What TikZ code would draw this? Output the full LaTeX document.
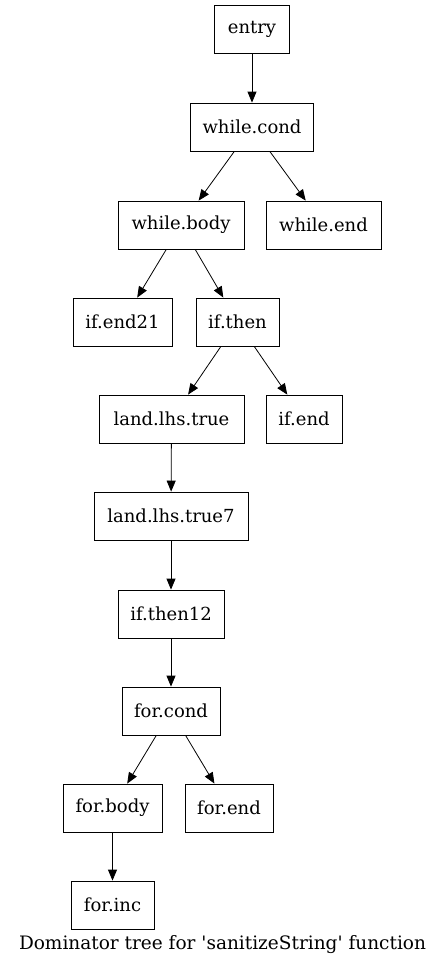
\documentclass[tikz,border=0pt]{standalone}
\usepackage{fontspec}
\setmainfont{DejaVu Serif}
\usetikzlibrary{arrows.meta}
\begin{document}
\begin{tikzpicture}[x=1pt,y=-1pt,
  blk/.style={draw,line width=0.8pt,rectangle,minimum height=48pt,inner xsep=8pt,font=\fontsize{18}{20}\selectfont},
  edge/.style={line width=0.8pt,-{Triangle[length=11pt,width=9pt]}}]
\useasboundingbox (0,0) rectangle (445,967);
\node[blk,minimum width=75pt] (entry) at (252,29.5) {entry};
\node[blk,minimum width=123pt] (wcond) at (252,127) {while.cond};
\node[blk,minimum width=126pt] (wbody) at (181,225) {while.body};
\node[blk,minimum width=115pt] (wend) at (323.5,225) {while.end};
\node[blk,minimum width=99pt] (ifend21) at (122.5,322) {if.end21};
\node[blk,minimum width=83pt] (ifthen) at (237.5,322) {if.then};
\node[blk,minimum width=145pt] (llt) at (171.5,419) {land.lhs.true};
\node[blk,minimum width=76pt] (ifend) at (304,419) {if.end};
\node[blk,minimum width=154pt] (llt7) at (171,516) {land.lhs.true7};
\node[blk,minimum width=106pt] (ift12) at (171,614) {if.then12};
\node[blk,minimum width=98pt] (fcond) at (171,711) {for.cond};
\node[blk,minimum width=99pt] (fbody) at (112.5,808) {for.body};
\node[blk,minimum width=88pt] (fend) at (229,808) {for.end};
\node[blk,minimum width=83pt] (finc) at (112.5,905) {for.inc};
\node[font=\fontsize{18.5}{20}\selectfont] (cap) at (222.5,945) {Dominator tree for \textquotesingle sanitizeString\textquotesingle{} function};
\draw[edge] (entry) -- (wcond);
\draw[edge] (wcond) -- (wbody);
\draw[edge] (wcond) -- (wend);
\draw[edge] (wbody) -- (ifend21);
\draw[edge] (wbody) -- (ifthen);
\draw[edge] (ifthen) -- (llt);
\draw[edge] (ifthen) -- (ifend);
\draw[edge] (llt) -- (llt7);
\draw[edge] (llt7) -- (ift12);
\draw[edge] (ift12) -- (fcond);
\draw[edge] (fcond) -- (fbody);
\draw[edge] (fcond) -- (fend);
\draw[edge] (fbody) -- (finc);
\end{tikzpicture}
\end{document}
